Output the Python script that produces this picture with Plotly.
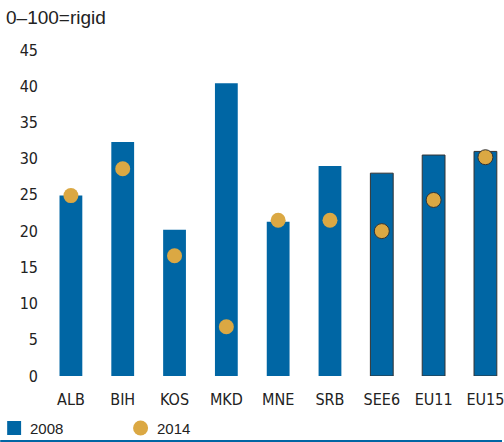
import plotly.graph_objects as go

categories = ["ALB", "BIH", "KOS", "MKD", "MNE", "SRB", "SEE6", "EU11", "EU15"]
values_2008 = [24.9, 32.3, 20.2, 40.4, 21.3, 29.0, 28.0, 30.5, 31.0]
values_2014 = [24.9, 28.6, 16.6, 6.8, 21.5, 21.5, 20.0, 24.3, 30.2]
aggregates = ["SEE6", "EU11", "EU15"]

BLUE = "#0066A4"
GOLD = "#DBA843"
EDGE = "#333333"

# plot area in pixels (for placing the hand-made legend)
W, H = 504, 442
L, T, B = 45, 50, 66
PW, PH = W - L, H - T - B


def px_x(p):
    return (p - L) / PW


def px_y(p):
    return (H - B - p) / PH


edge_w = [1 if c in aggregates else 0 for c in categories]

fig = go.Figure()
fig.add_trace(go.Bar(
    x=categories, y=values_2008, name="2008",
    marker=dict(color=BLUE, line=dict(color=EDGE, width=edge_w)),
    width=0.44, showlegend=False,
))
fig.add_trace(go.Scatter(
    x=categories, y=values_2014, name="2014", mode="markers",
    marker=dict(color=GOLD, size=15, line=dict(color=EDGE, width=edge_w)),
    showlegend=False,
))

tick_font = dict(family="Liberation Sans Narrow, DejaVu Sans Condensed, Arial Narrow, sans-serif",
                 size=16, color="#222")

fig.update_layout(
    width=W, height=H,
    margin=dict(l=L, r=0, t=T, b=B),
    plot_bgcolor="white", paper_bgcolor="white",
    font=dict(family="Liberation Sans, Arial, sans-serif", color="#222"),
    xaxis=dict(range=[-0.5, 8.32], showgrid=False, showline=False, zeroline=False,
               tickfont=tick_font, ticklabelstandoff=12, fixedrange=True),
    yaxis=dict(range=[0, 45], dtick=5, showgrid=False, showline=False, zeroline=False,
               tickfont=tick_font, ticklabelstandoff=6, fixedrange=True),
    shapes=[
        # legend: 2008 square
        dict(type="rect", xref="paper", yref="paper",
             x0=px_x(7), x1=px_x(21), y0=px_y(435), y1=px_y(421),
             fillcolor=BLUE, line=dict(width=0)),
        # legend: 2014 circle
        dict(type="circle", xref="paper", yref="paper",
             xsizemode="pixel", ysizemode="pixel",
             xanchor=px_x(141), yanchor=px_y(428),
             x0=-7.5, x1=7.5, y0=-7.5, y1=7.5,
             fillcolor=GOLD, line=dict(width=0)),
        # bottom rule
        dict(type="line", xref="paper", yref="paper",
             x0=px_x(0), x1=px_x(W), y0=px_y(441), y1=px_y(441),
             line=dict(color=BLUE, width=2)),
    ],
    annotations=[
        dict(text="0–100=rigid", xref="paper", yref="paper",
             x=px_x(4), y=px_y(18), xanchor="left", yanchor="middle",
             showarrow=False, font=dict(size=19)),
        dict(text="2008", xref="paper", yref="paper",
             x=px_x(28), y=px_y(428), xanchor="left", yanchor="middle",
             showarrow=False, font=dict(size=15)),
        dict(text="2014", xref="paper", yref="paper",
             x=px_x(155), y=px_y(428), xanchor="left", yanchor="middle",
             showarrow=False, font=dict(size=15)),
    ],
)

fig.write_html("out.html", config={"displayModeBar": False},
               post_script="document.body.style.margin='0';")
